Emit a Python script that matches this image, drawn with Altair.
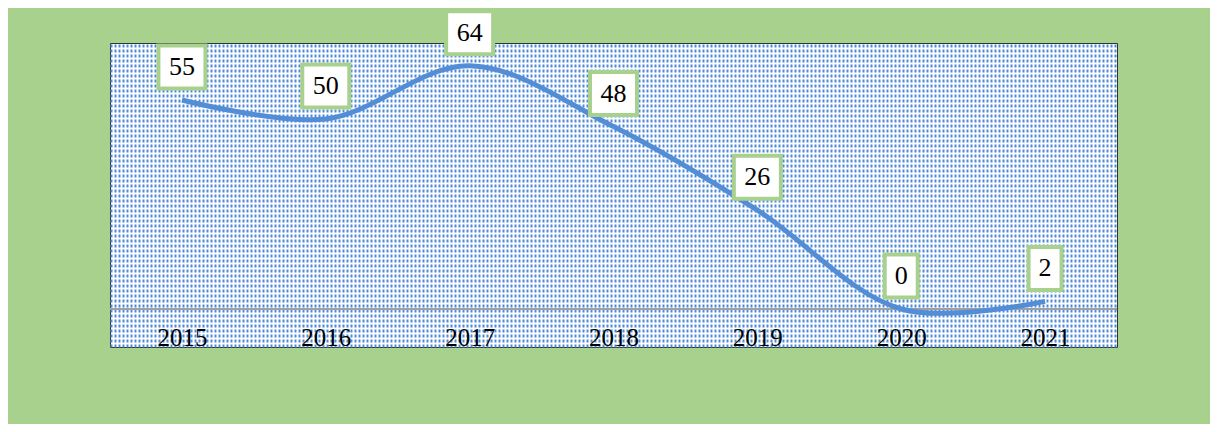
import altair as alt
import pandas as pd

years = ["2015", "2016", "2017", "2018", "2019", "2020", "2021"]
values = [55, 50, 64, 48, 26, 0, 2]

W, H = 1007, 304
GREEN = "#a9d18e"
BLUE = "#538dd5"
DOT = "#4f8ad8"
Y_MIN, Y_MAX = -10, 70

df = pd.DataFrame({"year": years, "value": values})
df["digits"] = df["value"].astype(str).str.len().astype(str)

xenc_axis = alt.X("year:O", scale=alt.Scale(type="point", padding=0.5),
                  axis=alt.Axis(title=None, domain=False, ticks=False, grid=False,
                                labelAngle=0, labelFont="Liberation Serif",
                                labelFontSize=25, labelColor="#000000",
                                labelPadding=-2, labelBaseline="alphabetic",
                                zindex=1))
xenc = alt.X("year:O", scale=alt.Scale(type="point", padding=0.5), axis=None)
yscale = alt.Scale(domain=[Y_MIN, Y_MAX], nice=False, zero=False)

base = alt.Chart(df)
single = base.transform_aggregate(n="count()").transform_calculate(z="0", p="0")

# dotted pattern of the plot area, drawn as dashed grid lines of a hidden axis
pattern = single.mark_point(opacity=0).encode(
    x=alt.X("p:Q", scale=alt.Scale(domain=[0, W], nice=False, zero=False),
            axis=alt.Axis(orient="top", values=list(range(1, W, 4)), grid=True,
                          gridColor=DOT, gridWidth=2, gridDash=[3, 2], gridOpacity=1,
                          labels=False, ticks=False, domain=False, title=None)),
    y=alt.Y("z:Q", scale=yscale, axis=None))

zero = single.mark_rule(color="#a0a0a0", strokeWidth=2).encode(
    y=alt.Y("z:Q", scale=yscale, axis=None))

line = base.mark_line(color=BLUE, strokeWidth=5, interpolate="catmull-rom").encode(
    x=xenc_axis, y=alt.Y("value:Q", scale=yscale, axis=None))

path2 = "M-1,-0.915L1,-0.915L1,0.915L-1,0.915Z"
path1 = "M-0.702,-0.915L0.702,-0.915L0.702,0.915L-0.702,0.915Z"
boxes = base.mark_point(filled=True, fill="white", stroke=GREEN, strokeWidth=4,
                        opacity=1, size=2209, yOffset=-33).encode(
    x=xenc, y=alt.Y("value:Q", scale=yscale),
    shape=alt.Shape("digits:N", scale=alt.Scale(domain=["2", "1"], range=[path2, path1]),
                    legend=None))

labels = base.mark_text(font="Liberation Serif", fontSize=26, color="#000000",
                        baseline="middle", align="center", dy=-33).encode(
    x=xenc, y=alt.Y("value:Q", scale=yscale), text="value:Q")

chart = alt.layer(pattern, zero, line, boxes, labels).resolve_scale(
    x="independent"
).properties(
    width=W, height=H,
    background=GREEN,
    autosize=alt.AutoSizeParams(type="none"),
    padding={"left": 102, "top": 35, "right": 93, "bottom": 77},
).configure_view(stroke="#333333", strokeWidth=1, fill="#ffffff")

chart.save("out.html", embed_options={"renderer": "svg", "actions": False})
